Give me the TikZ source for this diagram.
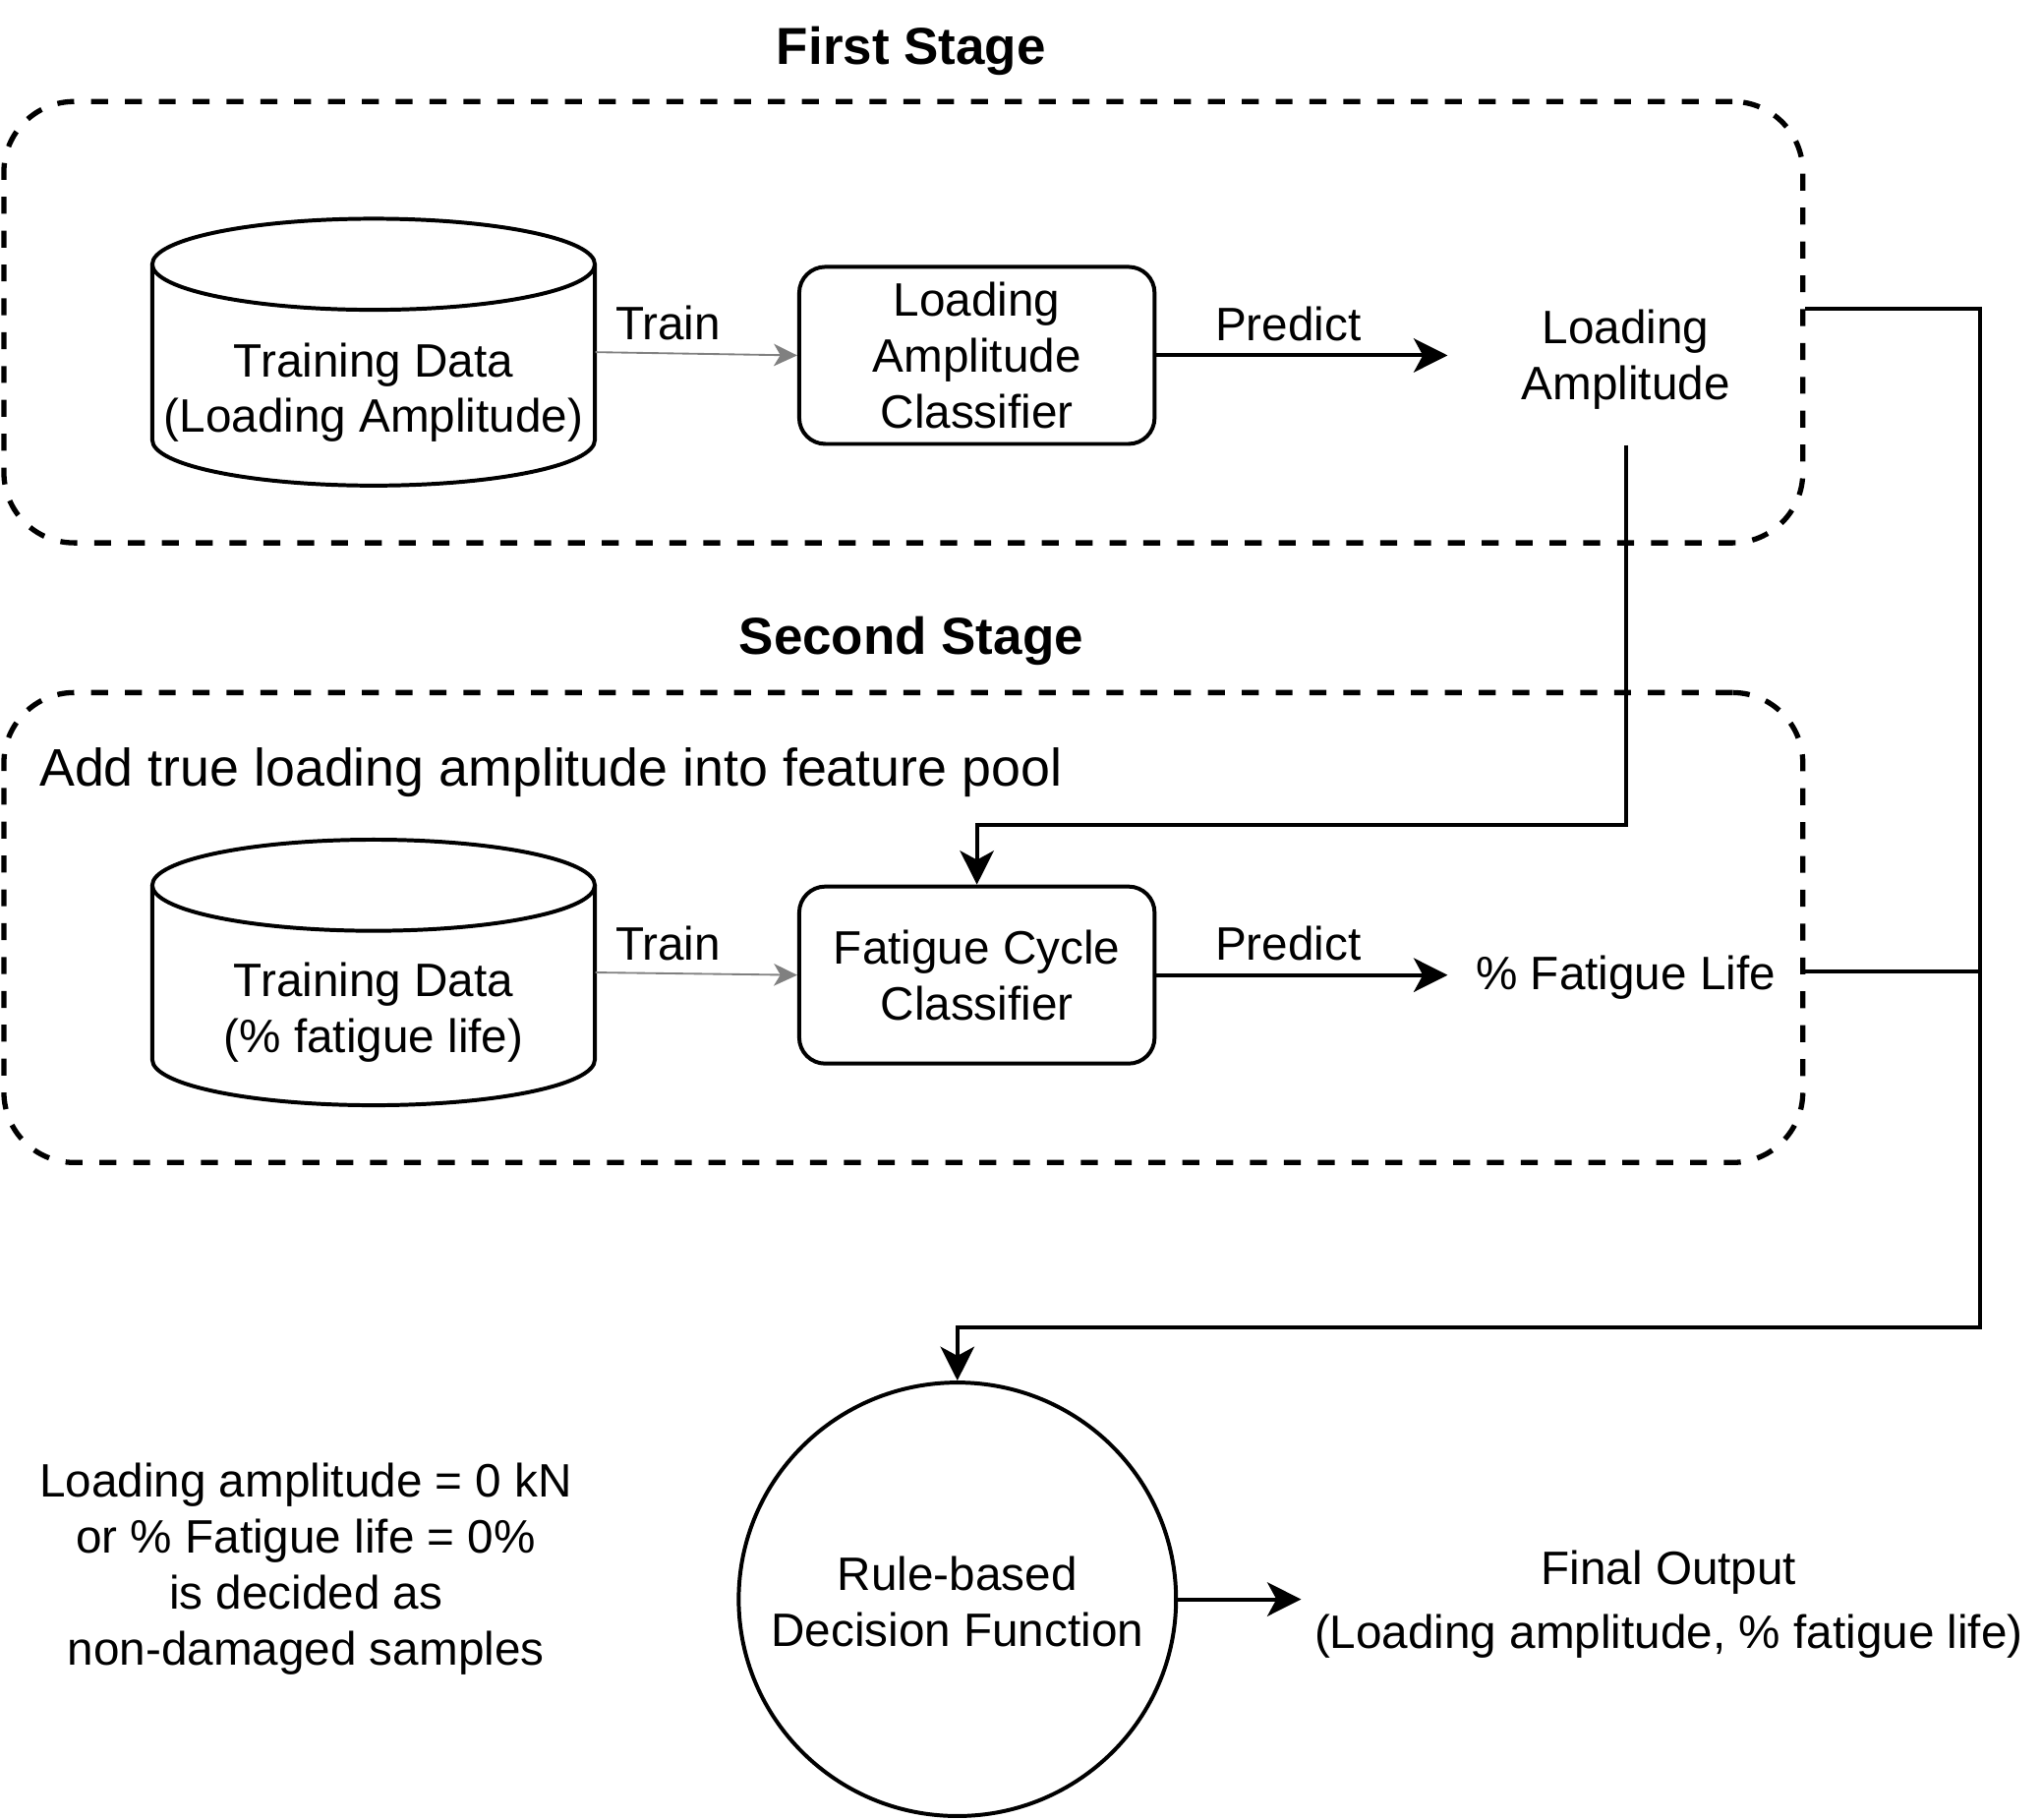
\documentclass[tikz,border=0pt]{standalone}
\usepackage{fontspec}
\setmainfont{Liberation Sans}
\usetikzlibrary{arrows.meta,shapes.geometric}
\begin{document}
\begin{tikzpicture}[x=0.5pt,y=-0.5pt,
  every node/.style={font=\fontsize{18}{21.5}\selectfont, align=center, inner sep=0pt},
  stagebox/.style={draw, line width=2pt, dash pattern=on 6.5pt off 6.5pt, rounded corners=27pt, minimum width=691pt},
  title/.style={font=\fontsize{20}{24}\selectfont\bfseries},
  clf/.style={draw, line width=1.5pt, rounded corners=10pt, minimum width=136.5pt, minimum height=68pt},
  outbox/.style={minimum width=136.5pt, minimum height=65pt},
  cylline/.style={line width=1.5pt},
  wire/.style={line width=1.5pt},
  conn/.style={line width=1.5pt, -{Stealth[length=13pt,width=13pt,inset=3.5pt]}},
  trainarrow/.style={draw=gray, line width=0.7pt, -{Stealth[length=9pt,width=8.5pt,inset=2.5pt,fill=gray]}}
]
\useasboundingbox (0,0) rectangle (1568,1398);

% titles
\node[title] (t1) at (700,39.5) {First Stage};
\node[title] (t2) at (700,492.5) {Second Stage};

% stage containers
\node[stagebox, minimum height=169.5pt] (stage1) at (694,247.5) {};
\node[stagebox, minimum height=180.5pt] (stage2) at (694,712.5) {};

\node[anchor=west, font=\fontsize{20.3}{24}\selectfont] (pool) at (30,593) {Add true loading amplitude into feature pool};

% cylinder 1
\node[minimum width=170pt, minimum height=102.5pt] (db1) at (287,270.5) {};
\draw[cylline] (287,203) ellipse [x radius=85pt, y radius=17.5pt];
\draw[cylline] (117,203) -- (117,338) arc [start angle=180, end angle=360, x radius=85pt, y radius=17.5pt] -- (457,203);
\node (db1t) at (287,301.5) {Training Data\\(Loading Amplitude)};

% cylinder 2
\node[minimum width=170pt, minimum height=102pt] (db2) at (287,747) {};
\draw[cylline] (287,680) ellipse [x radius=85pt, y radius=17.5pt];
\draw[cylline] (117,680) -- (117,814) arc [start angle=180, end angle=360, x radius=85pt, y radius=17.5pt] -- (457,680);
\node (db2t) at (287,777.5) {Training Data\\(\% fatigue life)};

% classifiers
\node[clf] (lac) at (750.5,273) {Loading\\Amplitude\\Classifier};
\node[clf] (fcc) at (750.5,749) {Fatigue Cycle\\Classifier};

% outputs
\node[outbox] (la) at (1249,276.5) {Loading\\Amplitude};
\node[outbox] (fl) at (1249,751) {\% Fatigue Life};

% train arrows
\draw[trainarrow] (db1.east) -- (lac.west) node[pos=0.36, yshift=11.5pt] (tr1) {Train};
\draw[trainarrow] (db2.east) -- (fcc.west) node[pos=0.36, yshift=11.5pt] (tr2) {Train};

% predict arrows
\draw[conn] (lac.east) -- (lac.east -| la.west) node[pos=0.452, yshift=12pt] (pr1) {Predict};
\draw[conn] (fcc.east) -- (fcc.east -| fl.west) node[pos=0.452, yshift=12pt] (pr2) {Predict};

% feedback of loading amplitude into second stage
\coordinate (k) at (1249,634);
\draw[conn] (la.south) -- (k) -| (fcc.north);

% decision function
\node[draw, ellipse, line width=1.5pt, minimum width=168pt, minimum height=166.5pt] (dec) at (735.5,1228.5) {};
\node (dect) at (735.5,1230) {Rule-based\\Decision Function};

% collection bus on the right
\coordinate (j1) at (1521,237);
\coordinate (j2) at (1521,746);
\coordinate (j3) at (1521,1020);
\draw[conn] (stage1.east |- j1) -- (j1) -- (j3) -| (dec.north);
\draw[wire] (stage2.east |- j2) -- (j2);

% final output
\node[minimum width=282pt] (fo) at (1282,1232.5) {Final Output\\[3pt](Loading amplitude, \% fatigue life)};
\draw[conn] (dec.east) -- (dec.east -| fo.west);

% rule note
\node (note) at (235,1205) {Loading amplitude = 0 kN\\or \% Fatigue life = 0\%\\is decided as\\non-damaged samples};
\end{tikzpicture}
\end{document}
